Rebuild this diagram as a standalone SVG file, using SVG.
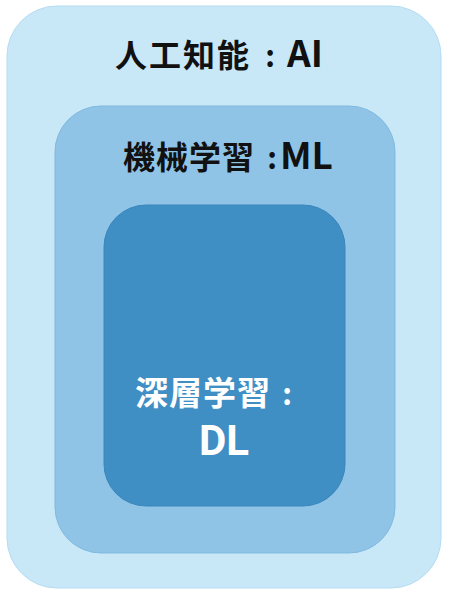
<svg xmlns="http://www.w3.org/2000/svg" width="449" height="597" viewBox="0 0 449 597">
<style>
.t{font-family:"Noto Sans CJK JP","Noto Sans",sans-serif;font-weight:700}
.dl{font-family:Roboto,"Liberation Sans",sans-serif;font-weight:700;text-anchor:middle}
.dark{fill:#111}
.light{fill:#fff}
</style>
<rect width="449" height="597" fill="#ffffff"/>
<g id="ai">
<rect x="7" y="6" width="434" height="582" rx="50" ry="50" fill="#c8e8f8" stroke="#b5dcf2" stroke-width="1"/>
<text class="t dark" y="67"><tspan x="115" font-size="32" letter-spacing="2">人工知能</tspan><tspan x="270" font-size="30" text-anchor="middle">:</tspan><tspan x="287" font-size="37">AI</tspan></text>
</g>
<g id="ml">
<rect x="55" y="106" width="340" height="447" rx="46" ry="46" fill="#8fc4e6" stroke="#80b9de" stroke-width="1"/>
<text class="t dark" y="169"><tspan x="123" font-size="32" letter-spacing="1">機械学習</tspan><tspan x="272" font-size="30" text-anchor="middle">:</tspan><tspan x="280" font-size="37">ML</tspan></text>
</g>
<g id="dl">
<rect x="104" y="205" width="241" height="301" rx="42" ry="42" fill="#3f8ec4" stroke="#3a86bb" stroke-width="1"/>
<text class="t light" y="405"><tspan x="135" font-size="33" letter-spacing="1">深層学習</tspan><tspan x="287" font-size="30" text-anchor="middle">:</tspan></text>
<text class="dl light" x="224" y="455" font-size="42">DL</text>
</g>
<g id="connectors"></g>
</svg>
